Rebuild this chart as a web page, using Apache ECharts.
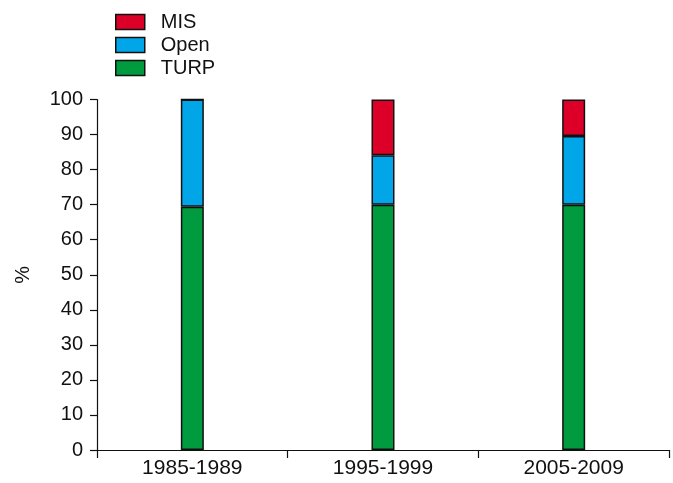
<!DOCTYPE html>
<html>
<head>
<meta charset="utf-8">
<script src="https://cdn.jsdelivr.net/npm/echarts@6/dist/echarts.min.js"></script>
<style>html,body{margin:0;padding:0;background:#fff;}#c{width:673px;height:483px;}</style>
</head>
<body>
<div id="c"></div>
<script>
const categories = ['1985-1989', '1995-1999', '2005-2009'];
const turp = [69.4, 70, 70];
const open = [30.6, 14.1, 19.6];
const mis = [0, 15.9, 10.4];
const yTicks = [0, 10, 20, 30, 40, 50, 60, 70, 80, 90, 100];

const font = 'Liberation Sans, Arial, sans-serif';
const chart = echarts.init(document.getElementById('c'));
const border = { borderColor: '#111', borderWidth: 1.5 };
chart.setOption({
  animation: false,
  textStyle: { fontFamily: font, color: '#111' },
  grid: { left: 97, right: 4, top: 99.5, bottom: 33, containLabel: false },
  legend: {
    data: ['MIS', 'Open', 'TURP'],
    orient: 'vertical',
    left: 110, top: 7,
    icon: 'rect',
    itemWidth: 29, itemHeight: 15, itemGap: 3,
    textStyle: { fontSize: 20, color: '#111', fontFamily: font, padding: [0, 0, 0, 11] },
    itemStyle: { borderColor: '#111', borderWidth: 1.5 }
  },
  xAxis: {
    type: 'category',
    data: categories,
    axisLine: { lineStyle: { color: '#111', width: 1.2 } },
    axisTick: { show: true, length: 8, lineStyle: { color: '#111', width: 1.2 } },
    axisLabel: { fontSize: 21, color: '#111', margin: 8, fontFamily: font }
  },
  yAxis: {
    type: 'value',
    min: yTicks[0], max: yTicks[yTicks.length - 1], interval: 10,
    name: '%', nameLocation: 'middle', nameGap: 64, nameRotate: 90,
    nameTextStyle: { fontSize: 20, color: '#111', fontFamily: font },
    splitLine: { show: false },
    axisLine: { show: true, lineStyle: { color: '#111', width: 1.2 } },
    axisTick: { show: true, length: 7, lineStyle: { color: '#111', width: 1.2 } },
    axisLabel: { fontSize: 20, color: '#111', margin: 14, fontFamily: font }
  },
  series: [
    { name: 'TURP', type: 'bar', stack: 's', barWidth: 23, data: turp, itemStyle: Object.assign({ color: '#009b3e' }, border) },
    { name: 'Open', type: 'bar', stack: 's', barWidth: 23, data: open, itemStyle: Object.assign({ color: '#00a6e8' }, border) },
    { name: 'MIS', type: 'bar', stack: 's', barWidth: 23, data: mis, itemStyle: Object.assign({ color: '#dc0028' }, border) }
  ]
});
</script>
</body>
</html>
